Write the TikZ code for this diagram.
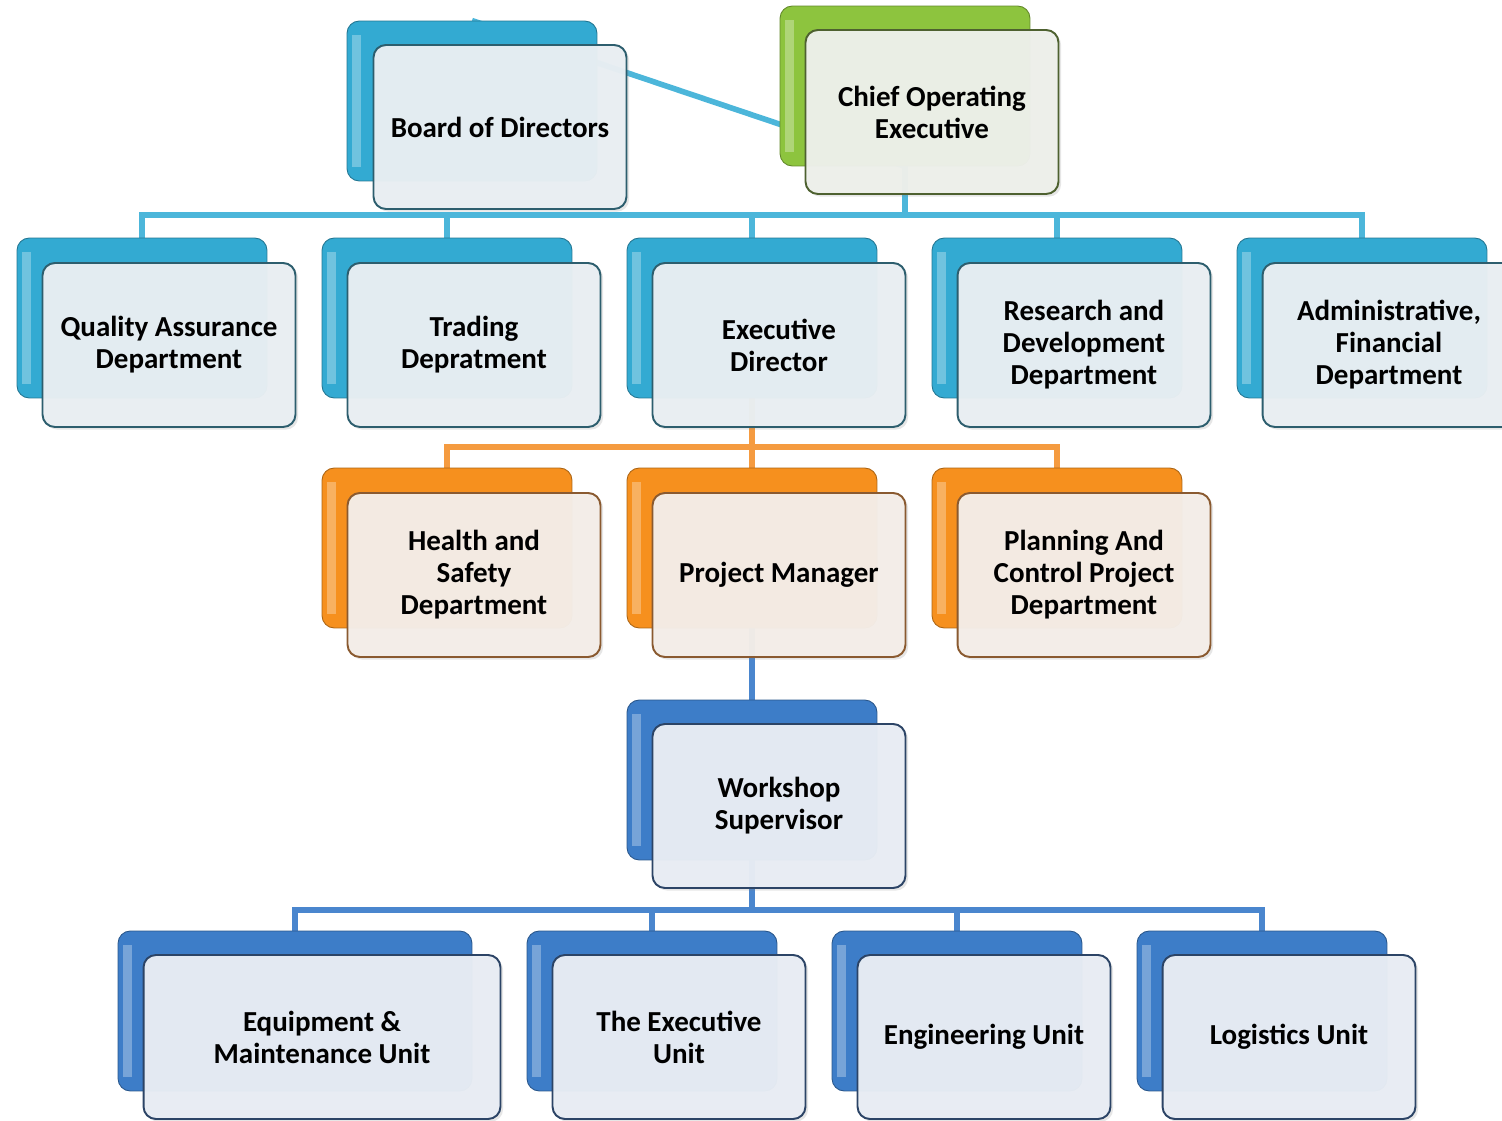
\documentclass[tikz,border=0pt]{standalone}
\usepackage{fontspec}
\setmainfont{Carlito}
\usepackage{xcolor}
\usepackage{tikz}
\usetikzlibrary{positioning, backgrounds, shadows}

\definecolor{tealbox}{HTML}{33AAD2}
\definecolor{greenbox}{HTML}{8DC43E}
\definecolor{orangebox}{HTML}{F6901E}
\definecolor{bluebox}{HTML}{3D7DC8}
\definecolor{tealfill}{HTML}{E9EFF3}
\definecolor{greenfill}{HTML}{EEF0EB}
\definecolor{orangefill}{HTML}{F4EEE8}
\definecolor{bluefill}{HTML}{E8EDF4}
\definecolor{tealedge}{HTML}{2D5E6E}
\definecolor{greenedge}{HTML}{4E6130}
\definecolor{orangeedge}{HTML}{8A5A30}
\definecolor{blueedge}{HTML}{2C4466}
\definecolor{teallinec}{HTML}{4CB6DA}
\definecolor{orangelinec}{HTML}{F59B40}
\definecolor{bluelinec}{HTML}{4A86CE}

\begin{document}
\begin{tikzpicture}[
    x=0.02cm, y=-0.02cm,
    backbox/.style={rounded corners=7pt, minimum width=5cm, minimum height=3.2cm, fill=#1, draw=#1!70!black, line width=0.5pt,
        path picture={\fill[white, opacity=0.3, sharp corners] ([shift={(3pt,-8pt)}]path picture bounding box.north west) rectangle ([shift={(8pt,8pt)}]path picture bounding box.south west);}},
    tealback/.style={backbox=tealbox},
    greenback/.style={backbox=greenbox},
    orangeback/.style={backbox=orangebox},
    blueback/.style={backbox=bluebox},
    frontbox/.style={rounded corners=7pt, minimum width=5.06cm, minimum height=3.28cm, line width=1.1pt, fill opacity=0.97, text opacity=1,
        align=center, font=\bfseries\fontsize{16.5}{18.2}\selectfont, drop shadow={opacity=0.2, shadow xshift=1.5pt, shadow yshift=-1.5pt}},
    tealfront/.style={frontbox, draw=tealedge, fill=tealfill},
    greenfront/.style={frontbox, draw=greenedge, fill=greenfill},
    orangefront/.style={frontbox, draw=orangeedge, fill=orangefill},
    bluefront/.style={frontbox, draw=blueedge, fill=bluefill},
    link/.style={line width=3.2pt},
    teallink/.style={link, draw=teallinec},
    orangelink/.style={link, draw=orangelinec},
    bluelink/.style={link, draw=bluelinec},
]
\useasboundingbox (0,0) rectangle (1502,1121);

% Top
\node[tealback] (board-b) at (472,101) {};
\node[tealfront] (board) at (500,127) {Board of Directors};
\node[greenback] (coe-b) at (905,86) {};
\node[greenfront] (coe) at (932,112) {Chief Operating\\Executive};

% Departments
\node[tealback] (qa-b) at (142,318) {};
\node[tealfront] (qa) at (169,345) {Quality Assurance\\Department};
\node[tealback] (tr-b) at (447,318) {};
\node[tealfront] (tr) at (474,345) {Trading\\Depratment};
\node[tealback] (ed-b) at (752,318) {};
\node[tealfront] (ed) at (779,345) {Executive\\Director};
\node[tealback] (rd-b) at (1057,318) {};
\node[tealfront] (rd) at (1084,345) {Research and\\Development\\Department};
\node[tealback] (af-b) at (1362,318) {};
\node[tealfront] (af) at (1389,345) {Administrative,\\Financial\\Department};

% Under the executive director
\node[orangeback] (hs-b) at (447,548) {};
\node[orangefront] (hs) at (474,575) {Health and\\Safety\\Department};
\node[orangeback] (pm-b) at (752,548) {};
\node[orangefront] (pm) at (779,575) {Project Manager};
\node[orangeback] (pc-b) at (1057,548) {};
\node[orangefront] (pc) at (1084,575) {Planning And\\Control Project\\Department};

% Workshop
\node[blueback] (ws-b) at (752,780) {};
\node[bluefront] (ws) at (779,806) {Workshop\\Supervisor};

% Units
\node[blueback, minimum width=7.08cm] (em-b) at (295,1011) {};
\node[bluefront, minimum width=7.14cm] (em) at (322,1037) {Equipment \&\\Maintenance Unit};
\node[blueback] (eu-b) at (652,1011) {};
\node[bluefront] (eu) at (679,1037) {The Executive\\Unit};
\node[blueback] (en-b) at (957,1011) {};
\node[bluefront] (en) at (984,1037) {Engineering Unit};
\node[blueback] (lu-b) at (1262,1011) {};
\node[bluefront] (lu) at (1289,1037) {Logistics Unit};

% Connectors
\coordinate (bus1) at (905,215);
\coordinate (bus2) at (752,447);
\coordinate (bus4) at (752,910);
\begin{scope}[on background layer]
\draw[teallink] (board-b.north) -- (coe-b.south);
\draw[teallink] (coe-b.south) -- (bus1);
\draw[teallink] (qa-b.north) |- (bus1);
\draw[teallink] (tr-b.north) |- (bus1);
\draw[teallink] (ed-b.north) |- (bus1);
\draw[teallink] (rd-b.north) |- (bus1);
\draw[teallink] (af-b.north) |- (bus1);
\draw[orangelink] (ed-b.south) -- (bus2);
\draw[orangelink] (hs-b.north) |- (bus2);
\draw[orangelink] (pm-b.north) -- (bus2);
\draw[orangelink] (pc-b.north) |- (bus2);
\draw[bluelink] (pm-b.south) -- (ws-b.north);
\draw[bluelink] (ws-b.south) -- (bus4);
\draw[bluelink] (em-b.north) |- (bus4);
\draw[bluelink] (eu-b.north) |- (bus4);
\draw[bluelink] (en-b.north) |- (bus4);
\draw[bluelink] (lu-b.north) |- (bus4);
\end{scope}
\end{tikzpicture}
\end{document}
